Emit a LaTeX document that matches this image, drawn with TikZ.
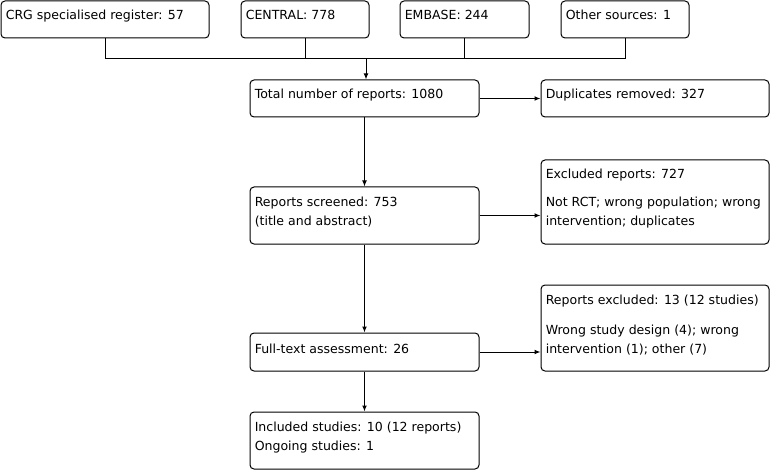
\documentclass[tikz,border=0pt]{standalone}
\usepackage{fontspec}
\setmainfont{DejaVu Sans}
\usetikzlibrary{arrows.meta,fit}

\begin{document}
\begin{tikzpicture}[
  x=0.75pt,y=-0.75pt,
  >={Latex[length=4.5pt,width=3.6pt]},
  box/.style={draw,rounded corners=3pt,line width=0.75pt,inner sep=0pt},
  boxtext/.style={anchor=north west,inner sep=0pt,align=left,font=\fontsize{9.4}{14.25}\selectfont},
  link/.style={line width=0.75pt},
  arrow/.style={->,line width=0.75pt}
]
\useasboundingbox (0,0) rectangle (773,470);

% sources
\node[box,fit={(1,1) (209,38)}] (crg) {};
\node[box,fit={(241,1) (369,38)}] (central) {};
\node[box,fit={(400,1) (529,38)}] (embase) {};
\node[box,fit={(561,1) (689,38)}] (other) {};
\node[boxtext] (crgtxt) at ([shift={(5,5.7)}]crg.north west) {\strut CRG specialised register: 57};
\node[boxtext] (centraltxt) at ([shift={(5,5.7)}]central.north west) {\strut CENTRAL: 778};
\node[boxtext] (embasetxt) at ([shift={(5,5.7)}]embase.north west) {\strut EMBASE: 244};
\node[boxtext] (othertxt) at ([shift={(5,5.7)}]other.north west) {\strut Other sources: 1};

% main column
\node[box,fit={(250,80) (479,117)}] (total) {};
\node[box,fit={(250,187) (479,244)}] (screened) {};
\node[box,fit={(250,333) (479,371)}] (fulltext) {};
\node[box,fit={(250,412) (479,469)}] (included) {};
\node[boxtext] (totaltxt) at ([shift={(5,5.7)}]total.north west) {\strut Total number of reports: 1080};
\node[boxtext] (screenedtxt) at ([shift={(5,6.7)}]screened.north west) {\strut Reports screened: 753\\(title and abstract)};
\node[boxtext] (fulltexttxt) at ([shift={(5,7.2)}]fulltext.north west) {\strut Full-text assessment: 26};
\node[boxtext] (includedtxt) at ([shift={(5,6.7)}]included.north west) {\strut Included studies: 10 (12 reports)\\Ongoing studies: 1};

% exclusions
\node[box,fit={(541,80) (769,117)}] (dup) {};
\node[box,fit={(541,160) (769,244)}] (excl) {};
\node[box,fit={(541,285) (769,371)}] (repexcl) {};
\node[boxtext] (duptxt) at ([shift={(5,5.7)}]dup.north west) {\strut Duplicates removed: 327};
\node[boxtext] (excltxt) at ([shift={(5,5.7)}]excl.north west) {\strut Excluded reports: 727\\[6.8pt]Not RCT; wrong population; wrong\\intervention; duplicates};
\node[boxtext] (repexcltxt) at ([shift={(5,6.7)}]repexcl.north west) {\strut Reports excluded: 13 (12 studies)\\[8pt]Wrong study design (4); wrong\\intervention (1); other (7)};

\coordinate (merge) at (366,59);
\foreach \src in {crg,central,embase,other}
  \draw[link] (\src.south) |- (merge);
\draw[arrow] (merge) -- (merge |- total.north);

\draw[arrow] (total) -- (screened);
\draw[arrow] (screened) -- (fulltext);
\draw[arrow] (fulltext) -- (included);

\draw[arrow] (total.east) -- (total.east -| dup.west);
\draw[arrow] (screened.east) -- (screened.east -| excl.west);
\draw[arrow] (fulltext.east) -- (fulltext.east -| repexcl.west);
\end{tikzpicture}
\end{document}
